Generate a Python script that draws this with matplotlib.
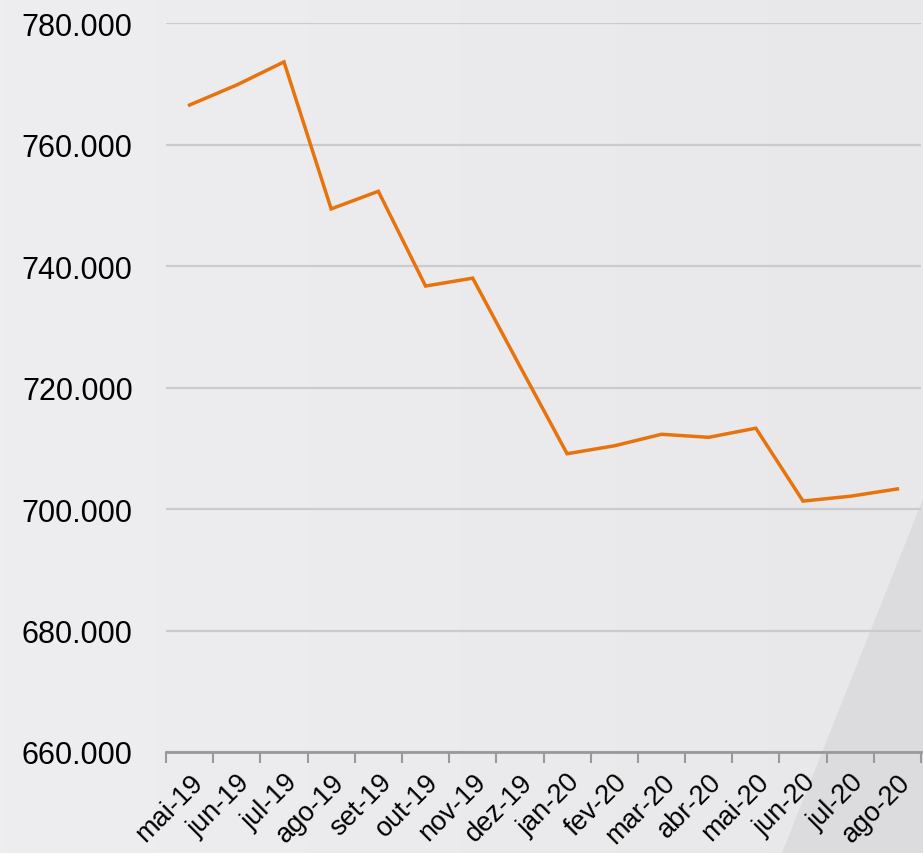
import matplotlib.pyplot as plt
import numpy as np
from matplotlib.patches import Polygon
from matplotlib.colors import LinearSegmentedColormap
from matplotlib.ticker import FuncFormatter

# Monthly values (thousands)
months = ['mai-19', 'jun-19', 'jul-19', 'ago-19', 'set-19', 'out-19', 'nov-19', 'dez-19',
          'jan-20', 'fev-20', 'mar-20', 'abr-20', 'mai-20', 'jun-20', 'jul-20', 'ago-20']
values = [766.5, 769.8, 773.6, 749.4, 752.3, 736.7, 738.0, 723.5,
          709.1, 710.4, 712.3, 711.8, 713.3, 701.3, 702.1, 703.3]
yticks = [660, 680, 700, 720, 740, 760, 780]

plt.rcParams['font.family'] = ['Liberation Sans', 'DejaVu Sans']

fig = plt.figure(figsize=(9.23, 8.54), dpi=100)
fig.patch.set_facecolor('#ebebed')

# background axes: soft gradient + darker wedge in the bottom right corner
bg = fig.add_axes([0, 0, 1, 1], zorder=-1)
bg.set_xlim(0, 1)
bg.set_ylim(0, 1)
bg.axis('off')
grad = np.linspace(0, 1, 256)[None, :]
bg.imshow(grad, extent=[0, 1, 0, 1], aspect='auto', zorder=0,
          cmap=LinearSegmentedColormap.from_list('bgc', ['#eeeef0', '#e8e8ea']))
bg.add_patch(Polygon([(1.0, 1 - 500 / 854), (1.0, 0.0), (782 / 923, 0.0)],
                     closed=True, facecolor='#dcdcdf', edgecolor='none', zorder=1))

ax = fig.add_axes([166 / 923, 1 - 753 / 854, (921 - 166) / 923, (753 - 24) / 854])
ax.set_facecolor('none')

x = np.arange(len(months))
ax.plot(x, values, color='#e8720c', lw=2.5, solid_joinstyle='miter', zorder=3)

ax.set_xlim(-0.5, len(months) - 0.5)
ax.set_ylim(660, 780)
ax.set_yticks(yticks)
ax.yaxis.set_major_formatter(FuncFormatter(lambda v, p: f'{v:.3f}'))
ax.grid(axis='y', color='#cbcbce', lw=1.6)
ax.set_axisbelow(True)

ax.set_xticks(x)
ax.set_xticklabels(months, rotation=45, ha='right', rotation_mode='anchor')
ax.set_xticks(np.arange(len(months) + 1) - 0.5, minor=True)
ax.tick_params(axis='x', which='major', length=0, pad=12, labelsize=19.5, colors='black')
ax.tick_params(axis='x', which='minor', length=8, width=1.5, color='#999999')
ax.tick_params(axis='y', length=0, pad=24, labelsize=22)

for s in ['top', 'right', 'left']:
    ax.spines[s].set_visible(False)
ax.spines['bottom'].set_color('#999999')
ax.spines['bottom'].set_linewidth(2)

fig.savefig('out.png', dpi=100, facecolor=fig.get_facecolor())
